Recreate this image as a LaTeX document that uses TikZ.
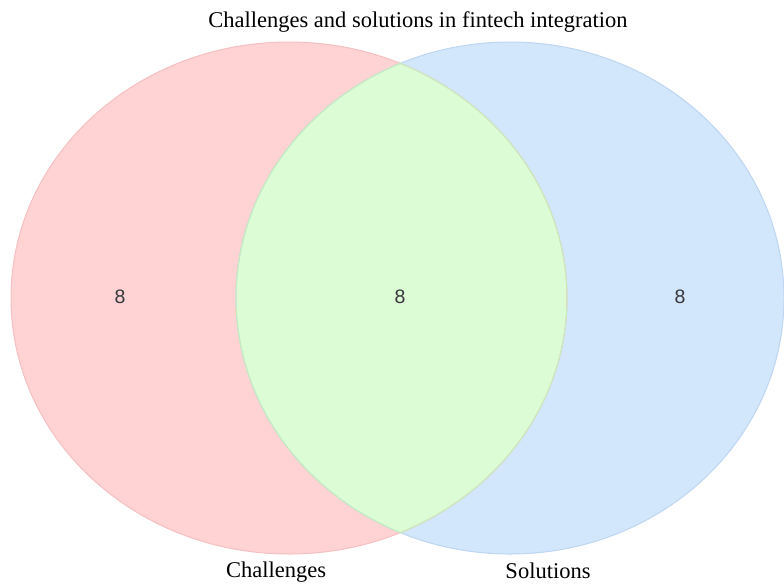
\documentclass[tikz,border=0pt]{standalone}
\usepackage{fontspec}
\setmainfont{Liberation Serif}
\newfontfamily\countfont{Liberation Sans}
\definecolor{chalfill}{RGB}{255,210,211}
\definecolor{challine}{RGB}{246,192,194}
\definecolor{solfill}{RGB}{210,230,252}
\definecolor{solline}{RGB}{190,214,242}
\definecolor{bothfill}{RGB}{219,252,213}
\definecolor{bothline}{RGB}{198,236,188}
\definecolor{countgray}{RGB}{55,55,60}
\tikzset{
	setlabel/.style={font=\fontsize{22.5}{27}\selectfont, anchor=base, inner sep=0pt},
	count/.style={font=\countfont\fontsize{19.5}{22}\selectfont, text=countgray, inner sep=0pt}
}
\begin{document}
\begin{tikzpicture}[x=1pt,y=-1pt]
		\useasboundingbox[fill=white] (0,0) rectangle (784,584);
		% the two sets
		\fill[chalfill] (289,298) ellipse (278 and 256);
		\fill[solfill] (510,298) ellipse (274 and 256);
		% overlap
		\begin{scope}
			\clip (289,298) ellipse (278 and 256);
			\fill[bothfill] (510,298) ellipse (274 and 256);
		\end{scope}
		\draw[challine, line width=1pt] (289,298) ellipse (278 and 256);
		\draw[solline, line width=1pt] (510,298) ellipse (274 and 256);
		\begin{scope}
			\clip (289,298) ellipse (278 and 256);
			\draw[bothline, line width=1pt] (510,298) ellipse (274 and 256);
		\end{scope}
		\begin{scope}
			\clip (510,298) ellipse (274 and 256);
			\draw[bothline, line width=1pt] (289,298) ellipse (278 and 256);
		\end{scope}
		% counts
		\node[count] (onlychal) at (120,297) {8};
		\node[count] (both) at (400,297) {8};
		\node[count] (onlysol) at (680,297) {8};
		% texts
		\node[setlabel] (title) at (418,27) {Challenges and solutions in fintech integration};
		\node[setlabel] (chal) at (276,577) {Challenges};
		\node[setlabel] (sol) at (548,578) {Solutions};
	\end{tikzpicture}
\end{document}
